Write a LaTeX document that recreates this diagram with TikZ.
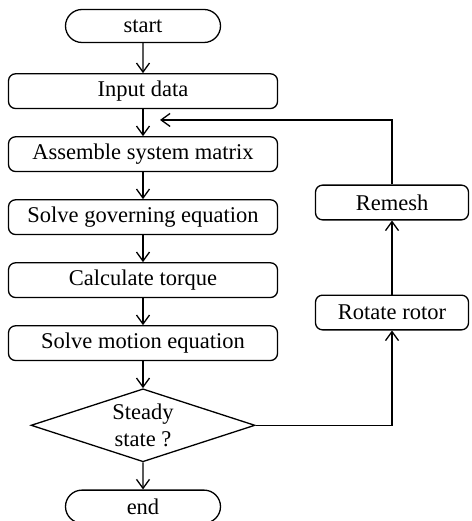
\documentclass[tikz,border=0pt]{standalone}
\usepackage{fontspec}
\setmainfont{Liberation Serif}
\usetikzlibrary{arrows.meta,shapes.geometric,shapes.misc,positioning,calc}

\begin{document}
\begin{tikzpicture}[x=1pt,y=1pt,->,>={Straight Barb[length=9pt,width=13pt]},
line width=1.3pt,node distance=27pt,
font=\fontsize{22.5}{27}\selectfont]
\tikzstyle{terminal}=[rounded rectangle,draw,minimum width=155pt,
minimum height=33pt,inner sep=0pt]
\tikzstyle{process}=[rectangle,rounded corners=7pt,draw,
minimum width=269pt,minimum height=34.7pt,inner sep=0pt]
\tikzstyle{sideproc}=[process,minimum width=153pt]
\tikzstyle{decision}=[diamond,draw,shape aspect=3,align=center,
minimum width=224pt,minimum height=73pt,inner sep=0pt]

\useasboundingbox (0,0) rectangle (471,-521);

\node[terminal] (start) at (143,-26) {start};

\node[process] (input) [below=30pt of start] {Input data};
\node[process] (assemble) [below=of input] {Assemble system matrix};
\node[process] (governing) [below=of assemble] {Solve governing equation};
\node[process] (torque) [below=of governing] {Calculate torque};
\node[process] (motion) [below=of torque] {Solve motion equation};
\node[decision] (steady) [below=27pt of motion] {Steady\\state ?};
\node[terminal] (end) [below=27pt of steady] {end};

\node[sideproc] (remesh) at (392,-202.5) {Remesh};
\node[sideproc] (rotate) [below=74pt of remesh] {Rotate rotor};

\coordinate (back) at ([xshift=17pt]$(input.south)!0.4!(assemble.north)$);

\path (start) edge (input)
      (input) edge (assemble)
      (assemble) edge (governing)
      (governing) edge (torque)
      (torque) edge (motion)
      (motion) edge (steady)
      (steady) edge (end);

\draw (steady.east) -| (rotate.south);
\draw (rotate) -- (remesh);
\draw (remesh.north) |- (back);

\end{tikzpicture}
\end{document}
